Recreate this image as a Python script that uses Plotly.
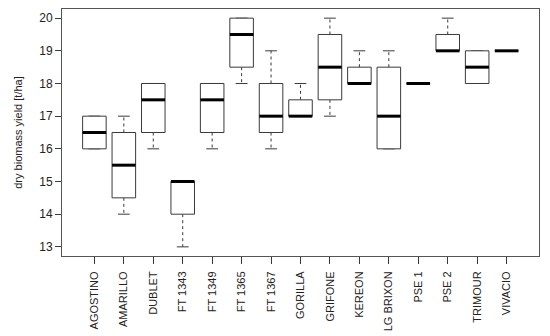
import plotly.graph_objects as go

categories = ["AGOSTINO", "AMARILLO", "DUBLET", "FT 1343", "FT 1349", "FT 1365", "FT 1367",
              "GORILLA", "GRIFONE", "KEREON", "LG BRIXON", "PSE 1", "PSE 2", "TRIMOUR", "VIVACIO"]
lower = [16, 14, 16, 13, 16, 18, 16, 17, 17, 18, 16, 18, 19, 18, 19]
q1 = [16, 14.5, 16.5, 14, 16.5, 18.5, 16.5, 17, 17.5, 18, 16, 18, 19, 18, 19]
median = [16.5, 15.5, 17.5, 15, 17.5, 19.5, 17, 17, 18.5, 18, 17, 18, 19, 18.5, 19]
q3 = [17, 16.5, 18, 15, 18, 20, 18, 17.5, 19.5, 18.5, 18.5, 18, 19.5, 19, 19]
upper = [17, 17, 18, 15, 18, 20, 19, 18, 20, 19, 19, 18, 20, 19, 19]
y_ticks = [13, 14, 15, 16, 17, 18, 19, 20]

HW = 0.4   # half box width
CW = 0.2   # half cap width
positions = list(range(1, len(categories) + 1))

bx, by, wx, wy, cx, cy, mx, my = [], [], [], [], [], [], [], []
for p, lo, a, m, b, hi in zip(positions, lower, q1, median, q3, upper):
    bx += [p - HW, p + HW, p + HW, p - HW, p - HW, None]
    by += [a, a, b, b, a, None]
    wx += [p, p, None, p, p, None]
    wy += [b, hi, None, a, lo, None]
    cx += [p - CW, p + CW, None, p - CW, p + CW, None]
    cy += [hi, hi, None, lo, lo, None]
    mx += [p - HW, p + HW, None]
    my += [m, m, None]

line_col = "#3a3a3a"
fig = go.Figure()
fig.add_trace(go.Scatter(x=wx, y=wy, mode="lines", line=dict(color=line_col, width=1, dash="3px,3px"),
                         hoverinfo="skip", showlegend=False))
fig.add_trace(go.Scatter(x=cx, y=cy, mode="lines", line=dict(color=line_col, width=1),
                         hoverinfo="skip", showlegend=False))
fig.add_trace(go.Scatter(x=bx, y=by, mode="lines", fill="toself", fillcolor="white",
                         line=dict(color=line_col, width=1), hoverinfo="skip", showlegend=False))
fig.add_trace(go.Scatter(x=mx, y=my, mode="lines", line=dict(color="black", width=3),
                         hoverinfo="skip", showlegend=False))

# the page body has an 8px default margin, so the figure is sized to fill the rest
font = dict(family="Liberation Sans, Arial, sans-serif", color="#222222")
fig.update_layout(
    width=542, height=328,
    margin=dict(l=54, r=11, t=1, b=80),
    paper_bgcolor="white", plot_bgcolor="white",
    font=font,
    xaxis=dict(range=[-0.1, 16.1], tickmode="array", tickvals=positions, ticktext=categories,
               tickangle=-90, ticks="outside", ticklen=7, tickcolor=line_col, ticklabelstandoff=3,
               showline=True, linecolor="#555555", linewidth=1, mirror=True, automargin=False,
               showgrid=False, zeroline=False, tickfont=dict(size=11, **font)),
    yaxis=dict(range=[12.72, 20.28], tickmode="array", tickvals=y_ticks,
               ticks="outside", ticklen=6, tickcolor=line_col,
               showline=True, linecolor="#555555", linewidth=1, mirror=True, automargin=False,
               showgrid=False, zeroline=False, tickfont=dict(size=12, **font),
               title=dict(text="dry biomass yield [t/ha]", font=dict(size=11, **font), standoff=14)),
)
fig.write_html("out.html")
